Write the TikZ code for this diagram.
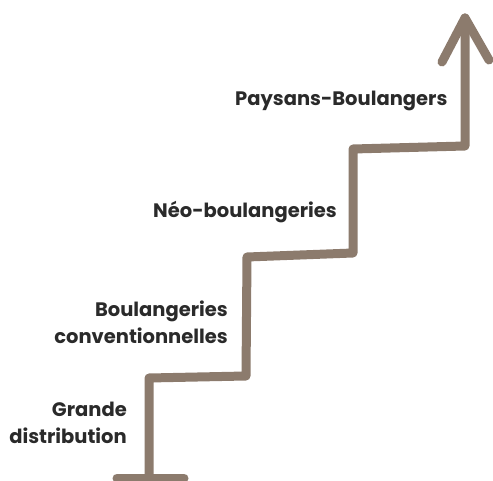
\documentclass[tikz,border=0pt]{standalone}
\usepackage{fontspec}
\setmainfont{Poppins}
\definecolor{stair}{HTML}{8C7B6D}
\definecolor{txt}{HTML}{2A2A2A}
\begin{document}
\begin{tikzpicture}[x=1pt,y=-1pt,
  stairline/.style={draw=stair,line width=9pt,line cap=round,line join=round},
  lbl/.style={text=txt,font=\fontsize{19.5}{27}\selectfont\bfseries,inner sep=0pt,align=right}]
\useasboundingbox (0,0) rectangle (493,481);
\coordinate (b1) at (117,478);
\coordinate (b2) at (184,478);
\coordinate (s0) at (149,478);
\coordinate (s1) at (149,378);
\coordinate (s2) at (246,376);
\coordinate (s3) at (247,257);
\coordinate (s4) at (353,253);
\coordinate (s5) at (353,149);
\coordinate (s6) at (465,146);
\coordinate (tip) at (465,18);
\coordinate (wl) at (442,62);
\coordinate (wr) at (489,60);
\draw[stairline] (b1) -- (b2);
\draw[stairline] (s0) -- (s1) -- (s2) -- (s3) -- (s4) -- (s5) -- (s6) -- (tip);
\draw[stairline] (wl) -- (tip) -- (wr);
\node[lbl,anchor=east] (n1) at (127,423) {Grande\\distribution};
\node[lbl,anchor=east] (n2) at (228,322) {Boulangeries\\conventionnelles};
\node[lbl,anchor=west] (n3) at (153,212) {Néo-boulangeries};
\node[lbl,anchor=west] (n4) at (235,101) {Paysans-Boulangers};
\end{tikzpicture}
\end{document}
